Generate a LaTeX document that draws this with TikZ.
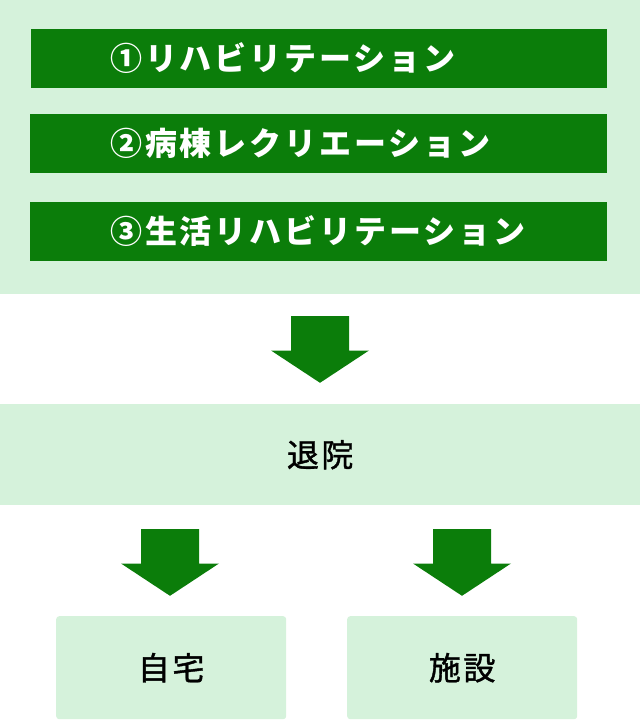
\documentclass[tikz,border=0pt]{standalone}
\usepackage{fontspec}
\setmainfont{Noto Sans CJK JP}
\newfontfamily\barfont{Noto Sans CJK JP}[LetterSpace=9]
\newfontfamily\boxfont{Noto Sans CJK JP}[LetterSpace=8, FakeBold=1.2]
\definecolor{leaf}{RGB}{11,125,10}
\definecolor{mint}{RGB}{213,242,219}
\tikzset{
  panel/.style={fill=mint, inner sep=0pt, anchor=north west},
  bar/.style={fill=leaf, inner sep=0pt, anchor=north west, minimum height=58.7pt},
  bartext/.style={text=white, inner sep=0pt, anchor=west, font=\barfont\bfseries\fontsize{32}{38}\selectfont},
  boxtext/.style={font=\boxfont\fontsize{32}{38}\selectfont},
}
\begin{document}
\begin{tikzpicture}[x=1pt, y=-1pt]
    \useasboundingbox (0,0) rectangle (640,721);
    % upper panel with the three programmes
    \node[panel, minimum width=640pt, minimum height=293.5pt] (top) at (0,0) {};
    \node[bar, minimum width=576pt] (bar1) at (31,29) {};
    \node[bar, minimum width=577pt] (bar2) at (30,114) {};
    \node[bar, minimum width=577pt] (bar3) at (30,202) {};
    \node[bartext] (t1) at (110,58.3) {①リハビリテーション};
    \node[bartext] (t2) at (110,143.3) {②病棟レクリエーション};
    \node[bartext] (t3) at (110,231.3) {③生活リハビリテーション};
    % discharge band and destinations
    \node[panel, boxtext, minimum width=640pt, minimum height=101pt] (out) at (0,404) {退院};
    \node[panel, boxtext, rounded corners=3pt, minimum width=230pt, minimum height=103pt] (home) at (56,616) {自宅};
    \node[panel, boxtext, rounded corners=3pt, minimum width=230pt, minimum height=103pt] (care) at (347,616) {施設};
    % block arrows
    \foreach \cx/\ty in {320/316, 170/529, 462/529}
        {
            \fill[leaf](\cx-29,\ty)--++(58,0)--++(0,34.5)--++(20,0)--(\cx,\ty+66.8)--(\cx-49,\ty+34.5)--++(20,0)--cycle;
        }
\end{tikzpicture}
\end{document}
